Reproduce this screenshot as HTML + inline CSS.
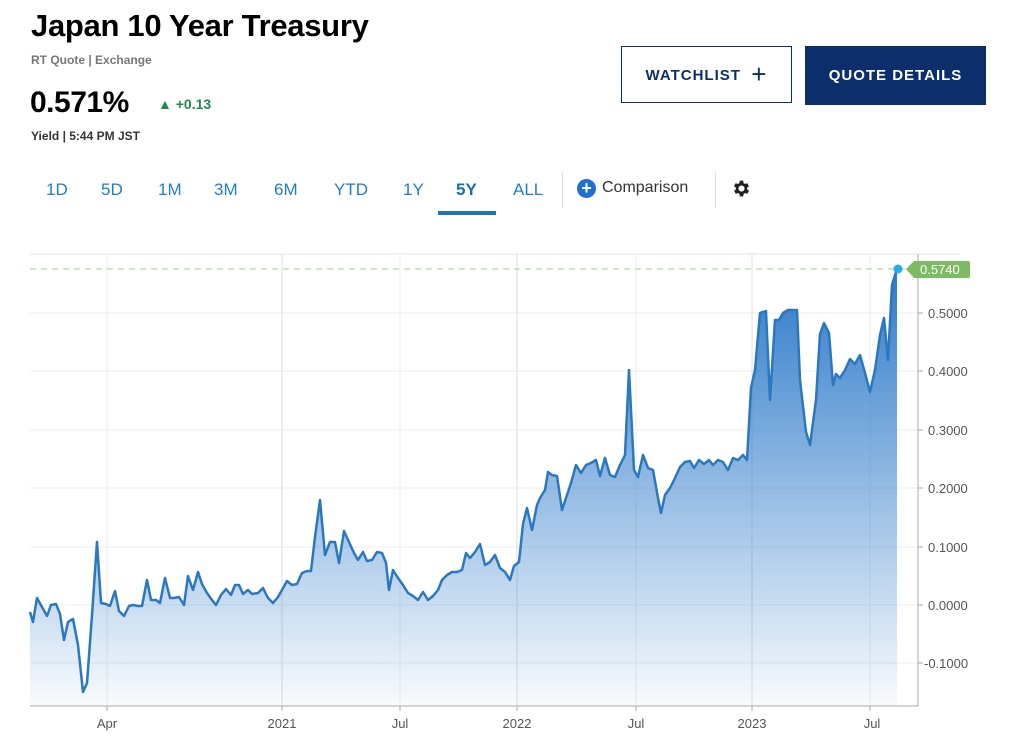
<!DOCTYPE html>
<html><head><meta charset="utf-8"><style>
body{margin:0;width:1024px;height:754px;background:#fff;font-family:"Liberation Sans",Arial,sans-serif;position:relative;overflow:hidden}
.a{position:absolute;white-space:nowrap}
.t{color:#1f80c0;font-size:17px}
</style></head><body>
<div class="a" style="left:31px;top:8px;font-size:31px;font-weight:bold;color:#000;letter-spacing:-0.3px">Japan 10 Year Treasury</div>
<div class="a" style="left:31px;top:53px;font-size:12px;font-weight:bold;color:#777">RT Quote | Exchange</div>
<div class="a" style="left:30px;top:86px;font-size:30px;font-weight:bold;color:#000;letter-spacing:-0.5px">0.571%</div>
<div class="a" style="left:158px;top:96px;font-size:14px;font-weight:bold;color:#1e8a4c">▲ +0.13</div>
<div class="a" style="left:31px;top:129px;font-size:12px;font-weight:bold;color:#333">Yield | 5:44 PM JST</div>
<div class="a" style="left:621px;top:46px;width:171px;height:57px;border:1px solid #0c2f66;box-sizing:border-box;color:#0c2f66;font-weight:bold;font-size:15px;letter-spacing:1px;line-height:55px;text-align:center">WATCHLIST&nbsp;&nbsp;<span style="font-size:26px;vertical-align:-3px;font-weight:normal">+</span></div>
<div class="a" style="left:805px;top:46px;width:181px;height:59px;background:#0c2f6b;color:#fff;font-weight:bold;font-size:15px;letter-spacing:1px;line-height:59px;text-align:center">QUOTE DETAILS</div>
<div class="a t" style="left:46px;top:180px">1D</div>
<div class="a t" style="left:101px;top:180px">5D</div>
<div class="a t" style="left:158px;top:180px">1M</div>
<div class="a t" style="left:214px;top:180px">3M</div>
<div class="a t" style="left:274px;top:180px">6M</div>
<div class="a t" style="left:334px;top:180px">YTD</div>
<div class="a t" style="left:403px;top:180px">1Y</div>
<div class="a t" style="left:456px;top:180px;font-weight:bold;color:#1a6fb0">5Y</div>
<div class="a" style="left:438px;top:211px;width:58px;height:4px;background:#1f75b5"></div>
<div class="a t" style="left:513px;top:180px">ALL</div>
<div class="a" style="left:562px;top:172px;width:1px;height:36px;background:#ddd"></div>
<div class="a" style="left:577px;top:179px;width:19px;height:19px;border-radius:50%;background:#1f6fd0;color:#fff;font-size:18px;line-height:18px;text-align:center;font-weight:bold">+</div>
<div class="a" style="left:602px;top:179px;font-size:16px;color:#333">Comparison</div>
<div class="a" style="left:715px;top:172px;width:1px;height:36px;background:#ddd"></div>
<svg class="a" style="left:731px;top:178px" width="21" height="21" viewBox="0 0 24 24"><path fill="#222" d="M19.4 13a7.5 7.5 0 0 0 0-2l2.1-1.6-2-3.5-2.5 1a7.6 7.6 0 0 0-1.7-1L15 3h-4l-.4 2.9a7.6 7.6 0 0 0-1.7 1l-2.5-1-2 3.5L6.6 11a7.5 7.5 0 0 0 0 2l-2.1 1.6 2 3.5 2.5-1a7.6 7.6 0 0 0 1.7 1L11 21h4l.4-2.9a7.6 7.6 0 0 0 1.7-1l2.5 1 2-3.5zM13 15.5a3.5 3.5 0 1 1 0-7 3.5 3.5 0 0 1 0 7z" transform="translate(-1 0)"/></svg>
<svg class="a" style="left:0;top:0" width="1024" height="754">
<defs><linearGradient id="g" x1="0" y1="260" x2="0" y2="706" gradientUnits="userSpaceOnUse"><stop offset="0" stop-color="#2a78c8"/><stop offset="1" stop-color="#2a78c8" stop-opacity="0.03"/></linearGradient></defs>
<line x1="30" y1="254" x2="960" y2="254" stroke="#e6e6e6"/>
<g stroke="#ececec">
<line x1="30" y1="313" x2="918" y2="313"/><line x1="30" y1="371" x2="918" y2="371"/><line x1="30" y1="430" x2="918" y2="430"/><line x1="30" y1="488" x2="918" y2="488"/><line x1="30" y1="547" x2="918" y2="547"/><line x1="30" y1="605" x2="918" y2="605"/><line x1="30" y1="663" x2="918" y2="663"/>
<line x1="107" y1="254" x2="107" y2="706"/><line x1="282" y1="254" x2="282" y2="706" stroke="#ddd"/><line x1="400" y1="254" x2="400" y2="706"/><line x1="517" y1="254" x2="517" y2="706" stroke="#ddd"/><line x1="636" y1="254" x2="636" y2="706"/><line x1="752" y1="254" x2="752" y2="706" stroke="#ddd"/><line x1="870" y1="254" x2="870" y2="706"/>
</g>
<path fill="url(#g)" d="M30,706 L30,612 33,622 37,598 42,607 47,616 51,605 56,604 60,614 64,640 68,622 73,619 78,645 83,692 87,683 92,615 97,542 101,603 106,604 110,606 115,591 119,611 124,616 129,606 133,605 138,606 142,606 147,580 151,600 156,600 160,603 165,578 170,598 174,598 179,597 184,605 188,576 193,590 198,572 202,584 207,593 212,600 216,605 221,595 226,589 231,595 235,585 239,585 243,594 248,590 252,594 258,593 263,588 268,598 273,603 278,597 282,590 287,581 292,585 297,584 302,573 307,571 311,571 315,537 320,500 325,555 330,542 335,542 339,563 344,531 349,542 354,553 358,560 363,552 367,561 372,560 377,552 382,553 386,563 389,590 393,570 398,578 403,585 408,593 413,596 418,600 423,592 428,600 433,596 438,590 442,580 447,575 452,572 457,572 462,570 466,553 470,558 475,552 480,544 485,565 490,562 495,555 500,568 505,572 510,580 514,566 519,562 523,524 527,508 532,530 537,505 540,498 545,490 548,472 552,475 557,476 562,510 567,495 571,483 576,465 581,473 586,465 591,463 596,460 600,476 605,458 610,475 615,477 620,465 625,455 629,370 634,470 638,477 643,455 648,468 653,470 658,498 661,513 665,495 670,488 675,478 680,467 685,462 690,461 694,468 699,460 704,464 709,460 713,465 718,460 723,462 728,470 733,458 738,460 743,455 747,460 751,388 755,370 760,313 766,311 770,400 775,320 779,320 783,313 788,310 793,310 797,310 800,380 806,432 810,445 816,400 820,334 824,323 829,333 833,385 836,374 840,378 845,370 850,359 855,364 860,355 865,373 870,392 875,370 880,335 884,318 888,360 892,285 897,269 L897,706 Z"/>
<polyline fill="none" stroke="#2a78c0" stroke-width="2.5" stroke-linejoin="round" points="30,612 33,622 37,598 42,607 47,616 51,605 56,604 60,614 64,640 68,622 73,619 78,645 83,692 87,683 92,615 97,542 101,603 106,604 110,606 115,591 119,611 124,616 129,606 133,605 138,606 142,606 147,580 151,600 156,600 160,603 165,578 170,598 174,598 179,597 184,605 188,576 193,590 198,572 202,584 207,593 212,600 216,605 221,595 226,589 231,595 235,585 239,585 243,594 248,590 252,594 258,593 263,588 268,598 273,603 278,597 282,590 287,581 292,585 297,584 302,573 307,571 311,571 315,537 320,500 325,555 330,542 335,542 339,563 344,531 349,542 354,553 358,560 363,552 367,561 372,560 377,552 382,553 386,563 389,590 393,570 398,578 403,585 408,593 413,596 418,600 423,592 428,600 433,596 438,590 442,580 447,575 452,572 457,572 462,570 466,553 470,558 475,552 480,544 485,565 490,562 495,555 500,568 505,572 510,580 514,566 519,562 523,524 527,508 532,530 537,505 540,498 545,490 548,472 552,475 557,476 562,510 567,495 571,483 576,465 581,473 586,465 591,463 596,460 600,476 605,458 610,475 615,477 620,465 625,455 629,370 634,470 638,477 643,455 648,468 653,470 658,498 661,513 665,495 670,488 675,478 680,467 685,462 690,461 694,468 699,460 704,464 709,460 713,465 718,460 723,462 728,470 733,458 738,460 743,455 747,460 751,388 755,370 760,313 766,311 770,400 775,320 779,320 783,313 788,310 793,310 797,310 800,380 806,432 810,445 816,400 820,334 824,323 829,333 833,385 836,374 840,378 845,370 850,359 855,364 860,355 865,373 870,392 875,370 880,335 884,318 888,360 892,285 897,269"/>
<line x1="30" y1="269" x2="918" y2="269" stroke="#9fcf8a" stroke-dasharray="6,5"/>
<line x1="30" y1="706" x2="918" y2="706" stroke="#aaa"/>
<line x1="918" y1="254" x2="918" y2="706" stroke="#aaa"/>
<g stroke="#aaa"><line x1="107" y1="706" x2="107" y2="711"/><line x1="282" y1="706" x2="282" y2="711"/><line x1="400" y1="706" x2="400" y2="711"/><line x1="517" y1="706" x2="517" y2="711"/><line x1="636" y1="706" x2="636" y2="711"/><line x1="752" y1="706" x2="752" y2="711"/><line x1="870" y1="706" x2="870" y2="711"/>
<line x1="918" y1="313" x2="923" y2="313"/><line x1="918" y1="371" x2="923" y2="371"/><line x1="918" y1="430" x2="923" y2="430"/><line x1="918" y1="488" x2="923" y2="488"/><line x1="918" y1="547" x2="923" y2="547"/><line x1="918" y1="605" x2="923" y2="605"/><line x1="918" y1="663" x2="923" y2="663"/></g>
<circle cx="898" cy="269" r="4.5" fill="#1fb0f0"/>
<path d="M906,269 L914,261 L968,261 Q970,261 970,263 L970,276 Q970,278 968,278 L914,278 Z" fill="#7dbb62"/>
<text x="920" y="274" fill="#fff" font-size="13" font-family="Liberation Sans,sans-serif">0.5740</text>
<g fill="#555" font-size="13" font-family="Liberation Sans,sans-serif">
<text x="928" y="318">0.5000</text><text x="928" y="376">0.4000</text><text x="928" y="435">0.3000</text><text x="928" y="493">0.2000</text><text x="928" y="552">0.1000</text><text x="928" y="610">0.0000</text><text x="924" y="668">-0.1000</text>
</g>
<g fill="#555" font-size="13" font-family="Liberation Sans,sans-serif" text-anchor="middle">
<text x="107" y="728">Apr</text><text x="282" y="728">2021</text><text x="400" y="728">Jul</text><text x="517" y="728">2022</text><text x="636" y="728">Jul</text><text x="752" y="728">2023</text><text x="872" y="728">Jul</text>
</g>
</svg>
</body></html>
